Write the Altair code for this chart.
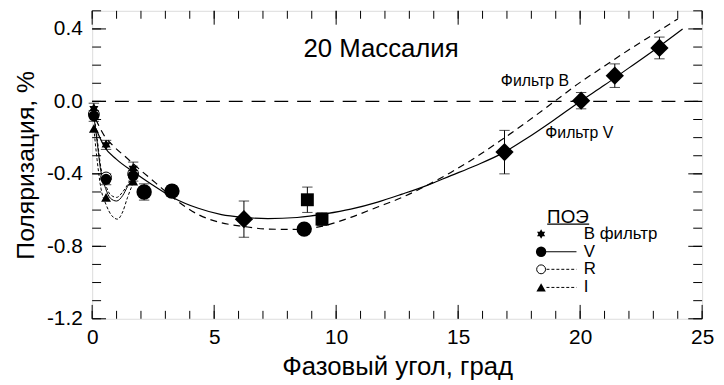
import altair as alt
import pandas as pd

# ---------------- data ----------------
# ПОЭ (short-period) points at small phase angles
poe_x = [0.07, 0.57, 1.68]
poe_B_y = [-0.04, -0.24, -0.37]
poe_B_err = [0.03, 0.025, 0.035]
poe_V_y = [-0.08, -0.43, -0.41]
poe_V_err = [0.03, 0.03, 0.03]
poe_R_y = [-0.07, -0.42, -0.40]
poe_I_y = [-0.15, -0.53, -0.44]

# other V-filter observations
circ_x = [2.13, 3.27, 8.69]
circ_y = [-0.50, -0.495, -0.705]
circ_err = [0.045, 0.03, 0.0]
sq_x = [8.82, 9.42]
sq_y = [-0.543, -0.65]
sq_err = [0.07, 0.035]
dia_x = [6.22, 16.9, 20.04, 21.42, 23.25]
dia_y = [-0.65, -0.28, 0.004, 0.142, 0.295]
dia_err = [0.10, 0.12, 0.045, 0.065, 0.06]

# long phase curves
curveV_x = [0.15, 0.5, 1.0, 1.7, 2.4, 3.3, 4.35, 5.3, 6.2, 7.2, 8.4, 9.6, 10.6, 11.7,
            12.7, 13.7, 14.7, 15.7, 16.9, 17.8, 18.9, 20.0, 21.0, 22.0, 23.0, 24.2]
curveV_y = [-0.15, -0.25, -0.32, -0.39, -0.455, -0.53, -0.59, -0.625, -0.64, -0.647, -0.641,
            -0.62, -0.595, -0.556, -0.512, -0.465, -0.41, -0.355, -0.28, -0.205, -0.105,
            0.0, 0.09, 0.185, 0.28, 0.40]
curveB_x = [0.15, 0.5, 0.9, 1.4, 1.9, 2.6, 3.3, 4.35, 5.3, 6.2, 7.2, 8.4, 9.4, 10.6, 11.7,
            12.7, 13.7, 14.7, 15.7, 16.8, 17.8, 18.9, 20.0, 21.0, 22.0, 23.0, 24.0]
curveB_y = [-0.10, -0.19, -0.25, -0.31, -0.37, -0.45, -0.53, -0.625, -0.67, -0.69, -0.705,
            -0.707, -0.69, -0.64, -0.583, -0.53, -0.465, -0.392, -0.31, -0.21, -0.115,
            -0.005, 0.105, 0.195, 0.285, 0.37, 0.455]

# short ПОЭ curves
sV_x = [0.07, 0.2, 0.35, 0.55, 0.75, 1.0, 1.25, 1.45, 1.68]
sV_y = [-0.08, -0.22, -0.38, -0.48, -0.535, -0.55, -0.52, -0.47, -0.42]
sR_y = [-0.07, -0.20, -0.36, -0.46, -0.515, -0.53, -0.50, -0.46, -0.41]
sI_x = [0.07, 0.2, 0.36, 0.57, 0.8, 1.04, 1.25, 1.45, 1.68]
sI_y = [-0.15, -0.32, -0.48, -0.57, -0.63, -0.65, -0.61, -0.53, -0.45]

x_major = [0, 5, 10, 15, 20, 25]
x_minor = list(range(0, 26))
y_major = [-1.2, -0.8, -0.4, 0.0, 0.4]
y_minor = [round(-1.2 + 0.1 * i, 1) for i in range(18)]

title_text = "20 Массалия"
x_title = "Фазовый угол, град"
y_title = "Поляризация, %"

FONT = "Liberation Sans, Arial, sans-serif"
W, H = 616, 311

xs = alt.Scale(domain=[0, 25], nice=False, zero=False)
ys = alt.Scale(domain=[-1.2, 0.5], nice=False, zero=False)

def df(x, y, **extra):
    d = pd.DataFrame({"x": x, "y": y})
    for k, v in extra.items():
        d[k] = v
    return d

X = alt.X("x:Q", scale=xs)
Y = alt.Y("y:Q", scale=ys)

# base layer carrying the axes: horizontal dashed zero line
base = alt.Chart(df([0, 25], [0, 0])).mark_line(
    color="black", strokeWidth=1.2, strokeDash=[14, 9]
).encode(
    x=alt.X("x:Q", scale=xs, title=x_title,
            axis=alt.Axis(values=x_major, ticks=False, domain=False, grid=False,
                          labelFlush=False,
                          labelFontSize=21, labelPadding=8, labelFont=FONT,
                          titleFont=FONT, titleFontSize=26, titleFontWeight="normal",
                          titlePadding=6, labelColor="black", titleColor="black")),
    y=alt.Y("y:Q", scale=ys, title=y_title,
            axis=alt.Axis(values=y_major, ticks=False, domain=False, grid=False,
                          labelFlush=False,
                          labelExpr="replace(format(datum.value, '.1f'), '\u2212', '-')",
                          labelFontSize=21, labelPadding=10, labelFont=FONT,
                          titleFont=FONT, titleFontSize=25, titleFontWeight="normal",
                          titlePadding=8, labelColor="black", titleColor="black")),
)

layers = [base]

# tick marks (inward, all four sides)
def xticks(vals, ln):
    d = pd.DataFrame({"x": vals})
    b = alt.Chart(d).mark_rule(color="black", strokeWidth=1)
    return [b.encode(x=X, y=alt.value(H), y2=alt.value(H - ln)),
            b.encode(x=X, y=alt.value(0), y2=alt.value(ln))]

def yticks(vals, ln):
    d = pd.DataFrame({"y": vals})
    b = alt.Chart(d).mark_rule(color="black", strokeWidth=1)
    return [b.encode(y=Y, x=alt.value(0), x2=alt.value(ln)),
            b.encode(y=Y, x=alt.value(W), x2=alt.value(W - ln))]

layers += xticks(x_minor, 8) + xticks(x_major, 14)
layers += yticks(y_minor, 9) + yticks(y_major, 14)

# curves
def line(x, y, dash=None, w=1.2):
    kw = dict(color="black", strokeWidth=w, interpolate="monotone")
    if dash:
        kw["strokeDash"] = dash
    return alt.Chart(df(x, y)).mark_line(**kw).encode(x=X, y=Y)

layers.append(line(curveV_x, curveV_y))
layers.append(line(curveB_x, curveB_y, [7, 5]))
layers.append(line(sV_x, sV_y, w=1.0))
layers.append(line(sV_x, sR_y, [3, 2], w=1.0))
layers.append(line(sI_x, sI_y, [3, 2], w=1.0))

# error bars
def errbars(x, y, e):
    d = pd.DataFrame({"x": x, "lo": [a - b for a, b in zip(y, e)],
                      "hi": [a + b for a, b in zip(y, e)]})
    d = d[d["hi"] > d["lo"]]
    r = alt.Chart(d).mark_rule(color="black", strokeWidth=1).encode(
        x=X, y=alt.Y("lo:Q", scale=ys), y2="hi:Q")
    c1 = alt.Chart(d).mark_point(shape="stroke", size=110, color="black",
                                 strokeWidth=1).encode(x=X, y=alt.Y("lo:Q", scale=ys))
    c2 = alt.Chart(d).mark_point(shape="stroke", size=110, color="black",
                                 strokeWidth=1).encode(x=X, y=alt.Y("hi:Q", scale=ys))
    return [r, c1, c2]

layers += errbars(dia_x, dia_y, dia_err)
layers += errbars(sq_x, sq_y, sq_err)
layers += errbars(circ_x, circ_y, circ_err)
layers += errbars(poe_x, poe_B_y, poe_B_err)
layers += errbars(poe_x, poe_V_y, poe_V_err)

HEX = "M0,-1L0.3,-0.5L0.87,-0.5L0.58,0L0.87,0.5L0.3,0.5L0,1L-0.3,0.5L-0.87,0.5L-0.58,0L-0.87,-0.5L-0.3,-0.5Z"

def pts(x, y, shape, size, filled=True):
    if filled:
        m = alt.Chart(df(x, y)).mark_point(shape=shape, size=size, filled=True,
                                          color="black", opacity=1)
    else:
        m = alt.Chart(df(x, y)).mark_point(shape=shape, size=size, filled=False,
                                          color="black", fill="white", strokeWidth=1,
                                          opacity=1)
    return m.encode(x=X, y=Y)

layers.append(pts(poe_x, poe_R_y, "circle", 120, filled=False))
layers.append(pts(poe_x, poe_I_y, "triangle-up", 100))
layers.append(pts(poe_x, poe_V_y, "circle", 120))
layers.append(pts(poe_x, poe_B_y, HEX, 110))
layers.append(pts(circ_x, circ_y, "circle", 240))
layers.append(pts(sq_x, sq_y, "square", 170))
layers.append(pts(dia_x, dia_y, "diamond", 340))

# text annotations
def text(x, y, s, size, align="left"):
    return alt.Chart(pd.DataFrame({"x": [x], "y": [y], "t": [s]})).mark_text(
        font=FONT, fontSize=size, align=align, baseline="middle", color="black"
    ).encode(x=X, y=Y, text="t:N")

layers.append(text(11.84, 0.29, title_text, 26, "center"))
layers.append(text(16.75, 0.11, "Фильтр B", 16))
layers.append(text(18.57, -0.173, "Фильтр V", 16))

# ПОЭ legend
layers.append(text(19.5, -0.636, "ПОЭ", 19, "center"))
layers.append(alt.Chart(df([18.65, 20.37], [-0.678, -0.678])).mark_line(
    color="black", strokeWidth=1.3).encode(x=X, y=Y))
leg_mx = 18.4
leg_tx = 20.15
leg_rows = [-0.732, -0.83, -0.927, -1.027]
layers.append(pts([leg_mx], [leg_rows[0]], HEX, 90))
layers.append(pts([leg_mx], [leg_rows[1]], "circle", 110))
layers.append(pts([leg_mx], [leg_rows[2]], "circle", 80, filled=False))
layers.append(pts([leg_mx], [leg_rows[3]], "triangle-up", 90))
layers.append(alt.Chart(df([18.55, 19.85], [leg_rows[1]] * 2)).mark_line(
    color="black", strokeWidth=1).encode(x=X, y=Y))
layers.append(alt.Chart(df([18.62, 19.85], [leg_rows[2]] * 2)).mark_line(
    color="black", strokeWidth=1, strokeDash=[3, 2]).encode(x=X, y=Y))
layers.append(alt.Chart(df([18.62, 19.85], [leg_rows[3]] * 2)).mark_line(
    color="black", strokeWidth=1, strokeDash=[3, 2]).encode(x=X, y=Y))
layers.append(text(leg_tx, leg_rows[0], "B фильтр", 17))
layers.append(text(leg_tx, leg_rows[1], "V", 17))
layers.append(text(leg_tx, leg_rows[2], "R", 17))
layers.append(text(leg_tx, leg_rows[3], "I", 17))

chart = alt.layer(*layers).properties(
    width=W, height=H,
    autosize=alt.AutoSizeParams(type="none"),
    padding={"left": 85, "top": 1, "right": 14, "bottom": 62},
).configure_view(
    stroke="black", strokeWidth=1.3
).configure(background="white", font=FONT)

chart.save("out.html", embed_options={"renderer": "svg", "actions": False})
